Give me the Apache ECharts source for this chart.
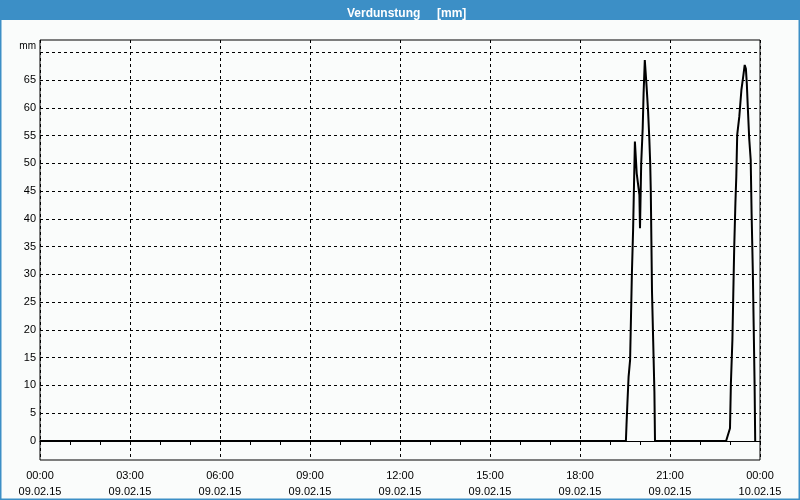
<!DOCTYPE html>
<html>
<head>
<meta charset="utf-8">
<script src="https://cdn.jsdelivr.net/npm/echarts@6/dist/echarts.min.js"></script>
<style>
html,body{margin:0;padding:0;background:#fafcfb;}
#c{width:800px;height:500px;}
</style>
</head>
<body>
<div id="c"></div>
<script>
// Data: time in hours since 09.02.15 00:00, evaporation in mm
const hours = [0, 19.53, 19.55, 19.58, 19.62, 19.67, 19.70, 19.73, 19.77, 19.80, 19.83, 19.89, 19.98, 20.00, 20.04, 20.09, 20.12, 20.16, 20.19, 20.22, 20.27, 20.31, 20.34, 20.36, 20.38, 20.40, 20.44, 20.48, 20.50, 22.87, 23.00, 23.03, 23.08, 23.11, 23.14, 23.18, 23.21, 23.24, 23.31, 23.38, 23.44, 23.49, 23.53, 23.56, 23.60, 23.64, 23.69, 23.72, 23.76, 23.79, 23.82, 23.84];
const values = [0, 0, 2.9, 6.8, 11.6, 14.6, 22.4, 30.2, 38.0, 46.1, 53.9, 48.2, 44.3, 38.3, 50.0, 56.3, 62.6, 68.6, 68.6, 63.8, 59.3, 54.5, 50.0, 44.9, 35.9, 26.9, 17.9, 8.9, 0, 0, 2.3, 10.4, 18.2, 26.6, 34.7, 42.8, 47.6, 55.1, 58.4, 63.2, 65.6, 67.7, 67.0, 64.4, 59.3, 54.5, 50.6, 41.0, 30.8, 20.6, 10.1, 0];
const tickTimes = ['00:00', '03:00', '06:00', '09:00', '12:00', '15:00', '18:00', '21:00', '00:00'];
const tickDates = ['09.02.15', '09.02.15', '09.02.15', '09.02.15', '09.02.15', '09.02.15', '09.02.15', '09.02.15', '10.02.15'];
const yLabelValues = [0, 5, 10, 15, 20, 25, 30, 35, 40, 45, 50, 55, 60, 65];
const yGridValues = [0, 5, 10, 15, 20, 25, 30, 35, 40, 45, 50, 55, 60, 65, 70];
const titleText = 'Verdunstung     [mm]';
const unitText = 'mm';

const font = '"Liberation Sans", Arial, sans-serif';
const chart = echarts.init(document.getElementById('c'), null, {renderer: 'canvas'});
chart.setOption({
  animation: false,
  backgroundColor: '#fafcfb',
  title: {
    text: titleText, left: 342, top: 3,
    textStyle: {color: '#ffffff', fontSize: 12, fontWeight: 'bold', fontFamily: font}
  },
  graphic: [
    {type: 'rect', shape: {x: 0, y: 0, width: 800, height: 20}, style: {fill: '#3c8fc6'}, z: -1},
    {type: 'rect', shape: {x: 0.5, y: 0.5, width: 799, height: 499}, style: {fill: null, stroke: '#3c8fc6', lineWidth: 2}, z: 10},
    {type: 'text', x: 36, y: 46, style: {text: unitText, align: 'right', verticalAlign: 'middle', fill: '#000', font: '10px ' + font}}
  ],
  grid: {left: 40, right: 40, top: 40, bottom: 40, show: true, borderColor: '#000', borderWidth: 1, backgroundColor: 'transparent'},
  xAxis: {
    type: 'value', min: 0, max: 24, interval: 3,
    axisLine: {show: true, lineStyle: {color: '#000', width: 1}},
    axisTick: {show: true, length: 4, lineStyle: {color: '#000'}},
    minorTick: {show: true, splitNumber: 3, length: 4, lineStyle: {color: '#000'}},
    splitLine: {show: true, lineStyle: {color: '#000', type: [3, 3], width: 1}},
    axisLabel: {
      margin: 8, color: '#000', fontSize: 11, fontFamily: font, lineHeight: 16,
      showMinLabel: true, showMaxLabel: true,
      formatter: function (v) { const i = Math.round(v / 3); return tickTimes[i] + '\n' + tickDates[i]; }
    }
  },
  yAxis: {
    type: 'value', min: -3.42, max: 72.2,
    axisLine: {show: false},
    axisTick: {show: false},
    splitLine: {show: false},
    axisLabel: {customValues: yLabelValues, margin: 4, color: '#000', fontSize: 11, fontFamily: font}
  },
  series: [{
    type: 'line',
    data: hours.map((h, i) => [h, values[i]]),
    showSymbol: false,
    lineStyle: {color: '#000', width: 2},
    itemStyle: {color: '#000'},
    markLine: {
      silent: true, symbol: 'none', label: {show: false},
      lineStyle: {color: '#000', type: [3, 3], width: 1},
      data: yGridValues.map(v => ({yAxis: v}))
    }
  }]
});
</script>
</body>
</html>
